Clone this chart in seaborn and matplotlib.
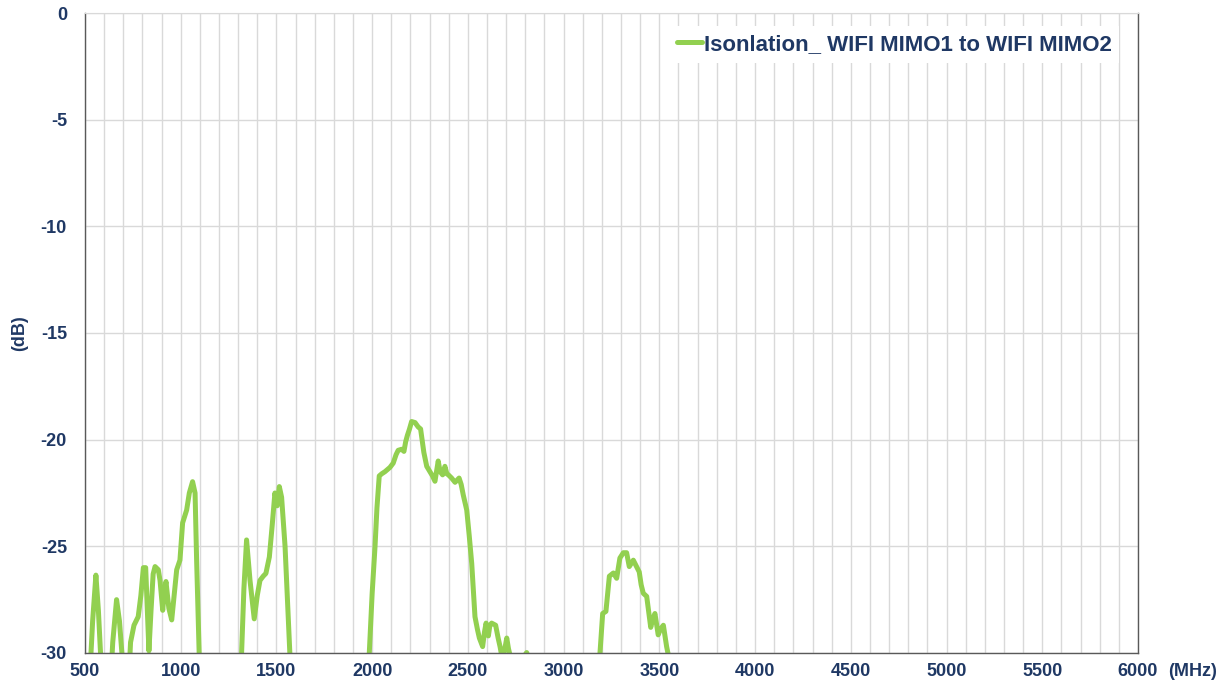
import numpy as np
import pandas as pd
import matplotlib
matplotlib.use("Agg")
import matplotlib.pyplot as plt
import seaborn as sns

# frequency (MHz) and isolation (dB); values below -30 fall off the chart
freq_mhz = [
    500, 520, 540, 557, 570, 584, 600,
    630, 645, 665, 680, 697, 712,
    725, 738, 756, 778, 792, 805, 817, 826, 834, 845, 856, 866, 883, 892,
    906, 914, 923, 938, 953, 966, 979, 996, 1010, 1031, 1045, 1062, 1075,
    1083, 1097, 1110,
    1305, 1318, 1330, 1344, 1362, 1384, 1400, 1414, 1431, 1445, 1463, 1478,
    1492, 1504, 1515, 1527, 1545, 1560, 1571, 1585,
    1975, 1985, 2000, 2015, 2025, 2037, 2050, 2067, 2080, 2093, 2110, 2125,
    2136, 2154, 2166, 2175, 2184, 2195, 2206, 2224, 2240, 2253, 2270, 2285,
    2302, 2315, 2328, 2345, 2355, 2368, 2380, 2390, 2398, 2415, 2433, 2454,
    2465, 2476, 2494, 2507, 2520, 2537, 2550, 2560, 2577, 2587, 2595, 2607,
    2615, 2624, 2645, 2658, 2668, 2680, 2693, 2703, 2712, 2720, 2740, 2760,
    2790, 2807, 2820, 2840,
    3180, 3190, 3204, 3221, 3230, 3239, 3260, 3277, 3294, 3312, 3329, 3343,
    3364, 3378, 3395, 3405, 3416, 3434, 3445, 3455, 3466, 3477, 3494, 3505,
    3521, 3538, 3547, 3560, 6000,
]
isolation_db = [
    -32, -32, -28.5, -26.35, -28.0, -30.5, -32,
    -32, -29.5, -27.5, -28.5, -30.5, -32,
    -32, -29.5, -28.7, -28.3, -27.3, -26.0, -26.0, -28.0, -29.9, -28.0, -26.3, -25.95, -26.1, -26.6,
    -28.0, -27.2, -26.65, -27.9, -28.45, -27.3, -26.1, -25.65, -23.9, -23.3, -22.5, -21.97, -22.5,
    -25.6, -30.2, -32,
    -32, -30.0, -27.0, -24.7, -26.6, -28.4, -27.3, -26.6, -26.4, -26.27, -25.5, -24.0,
    -22.5, -23.1, -22.2, -22.7, -25.0, -28.0, -30.2, -32,
    -32, -30.0, -27.2, -25.0, -23.2, -21.7, -21.6, -21.5, -21.4, -21.3, -21.1, -20.7,
    -20.5, -20.45, -20.55, -20.1, -19.8, -19.5, -19.15, -19.2, -19.4, -19.5, -20.6, -21.25,
    -21.5, -21.7, -21.95, -21.0, -21.5, -21.65, -21.25, -21.6, -21.65, -21.8, -22.0, -21.8,
    -22.1, -22.6, -23.3, -24.5, -25.8, -28.3, -28.9, -29.3, -29.7, -29.0, -28.6, -29.2,
    -28.7, -28.6, -28.7, -29.3, -29.7, -30.3, -29.8, -29.3, -29.8, -30.1, -30.4, -30.3,
    -30.2, -29.98, -30.3, -32,
    -32, -30.0, -28.15, -28.05, -27.2, -26.4, -26.25, -26.5, -25.55, -25.3, -25.3, -25.95,
    -25.65, -25.9, -26.2, -26.8, -27.2, -27.35, -28.1, -28.8, -28.4, -28.15, -29.15, -28.9,
    -28.7, -29.7, -30.1, -32, -32,
]
series_name = "Isonlation_ WIFI MIMO1 to WIFI MIMO2"
x_ticks = list(range(500, 6001, 500))
y_ticks = list(range(-30, 1, 5))

df = pd.DataFrame({"freq": freq_mhz, "db": isolation_db})

sns.set_style("white")
plt.rcParams["font.family"] = ["Liberation Sans", "DejaVu Sans"]
plt.rcParams["axes.unicode_minus"] = False
navy = "#1F3864"

fig = plt.figure(figsize=(12.21, 6.88), dpi=100)
ax = fig.add_axes([0.0696, 0.0509, 0.8624, 0.9302])

sns.lineplot(data=df, x="freq", y="db", ax=ax, color="#92D050", linewidth=3.6,
             estimator=None, sort=False, label=series_name,
             solid_joinstyle="round", solid_capstyle="round")

ax.set_xlim(500, 6000)
ax.set_ylim(-30, 0)
ax.set_xticks(x_ticks)
ax.set_xticks(range(500, 6001, 100), minor=True)
ax.set_yticks(y_ticks)
ax.grid(True, which="both", axis="x", color="#D9D9D9", linewidth=1)
ax.grid(True, which="major", axis="y", color="#D9D9D9", linewidth=1)
ax.set_axisbelow(True)

for s in ["left", "bottom", "right"]:
    ax.spines[s].set_color("#595959")
    ax.spines[s].set_linewidth(1)
ax.spines["top"].set_color("#D9D9D9")

ax.tick_params(axis="x", which="major", length=3, direction="in", color="#595959",
               pad=7, labelsize=13, labelcolor=navy)
ax.tick_params(axis="x", which="minor", length=0)
ax.tick_params(axis="y", length=0, pad=13, labelsize=13, labelcolor=navy)
for lab in ax.get_xticklabels() + ax.get_yticklabels():
    lab.set_fontweight("bold")

ax.set_xlabel("")
ax.set_ylabel("(dB)", fontsize=13, fontweight="bold", color=navy, labelpad=9)
ax.annotate("(MHz)", xy=(1, 0), xycoords="axes fraction", xytext=(22, -7),
            textcoords="offset points", ha="left", va="top",
            fontsize=13, fontweight="bold", color=navy)

leg = ax.legend(loc="upper right", bbox_to_anchor=(0.993, 0.997), frameon=True,
                fancybox=False, framealpha=1, edgecolor="none",
                handlelength=1.1, handletextpad=0.1, borderpad=0.35,
                prop={"size": 16, "weight": "bold"})
for t in leg.get_texts():
    t.set_color(navy)

plt.savefig("out.png", dpi=100)
